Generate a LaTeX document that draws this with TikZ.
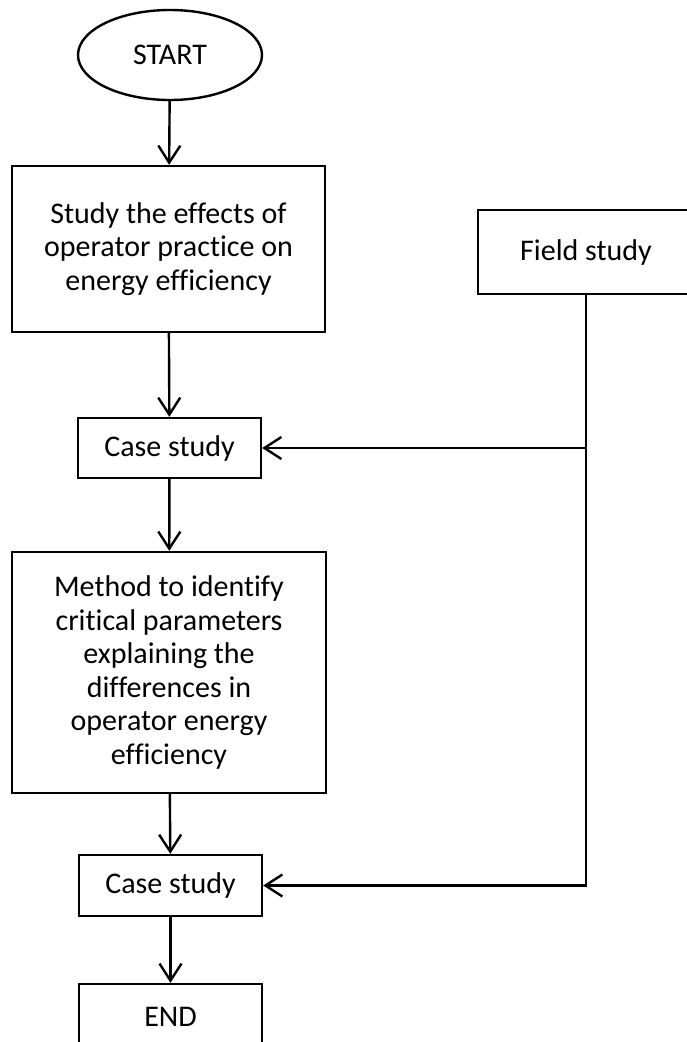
\documentclass[tikz,border=0pt]{standalone}
\usepackage{fontspec}
\setmainfont{Carlito}[Ligatures=NoCommon]
\usetikzlibrary{shapes.geometric,arrows.meta}

\begin{document}
\begin{tikzpicture}[x=1pt,y=-1pt,line width=2.4pt,
  box/.style={draw,rectangle,inner sep=0pt,align=center,font=\fontsize{30}{33.6}\selectfont},
  flow/.style={-{Straight Barb[length=17pt,width=22pt,line width=2.4pt]}}]
  \useasboundingbox (0,0) rectangle (687,1042);
  \path[clip] (0,0) rectangle (687,1042);

  \coordinate (c start) at (170,55);
  \coordinate (c effects) at (168.5,249);
  \coordinate (c case 1) at (169.5,448);
  \coordinate (c method) at (169,672.5);
  \coordinate (c case 2) at (170.5,885.5);
  \coordinate (c end) at (170.5,1017);
  \coordinate (c field) at (586,252);

  \node[box,ellipse,minimum width=184pt,minimum height=90pt] (start) at (c start) {START};
  \node[box,minimum width=313pt,minimum height=166pt] (effects) at (c effects) {Study the effects of\\operator practice on\\energy efficiency};
  \node[box,minimum width=183pt,minimum height=60pt] (case 1) at (c case 1) {Case study};
  \node[box,minimum width=314pt,minimum height=241pt] (method) at (c method) {Method to identify\\critical parameters\\explaining the\\differences in\\operator energy\\efficiency};
  \node[box,minimum width=183pt,minimum height=61pt] (case 2) at (c case 2) {Case study};
  \node[box,minimum width=183pt,minimum height=66pt] (end) at (c end) {END};
  \node[box,minimum width=216pt,minimum height=84pt] (field) at (c field) {Field study};

  \draw[flow] (start) -- (effects);
  \draw[flow] (effects) -- (case 1);
  \draw[flow] (case 1) -- (method);
  \draw[flow] (method) -- (case 2);
  \draw[flow] (case 2) -- (end);

  \draw[flow] (field.south) -- (field.south |- case 2.east) -- (case 2.east);
  \draw[flow] (field.south |- case 1.east) -- (case 1.east);
\end{tikzpicture}
\end{document}
